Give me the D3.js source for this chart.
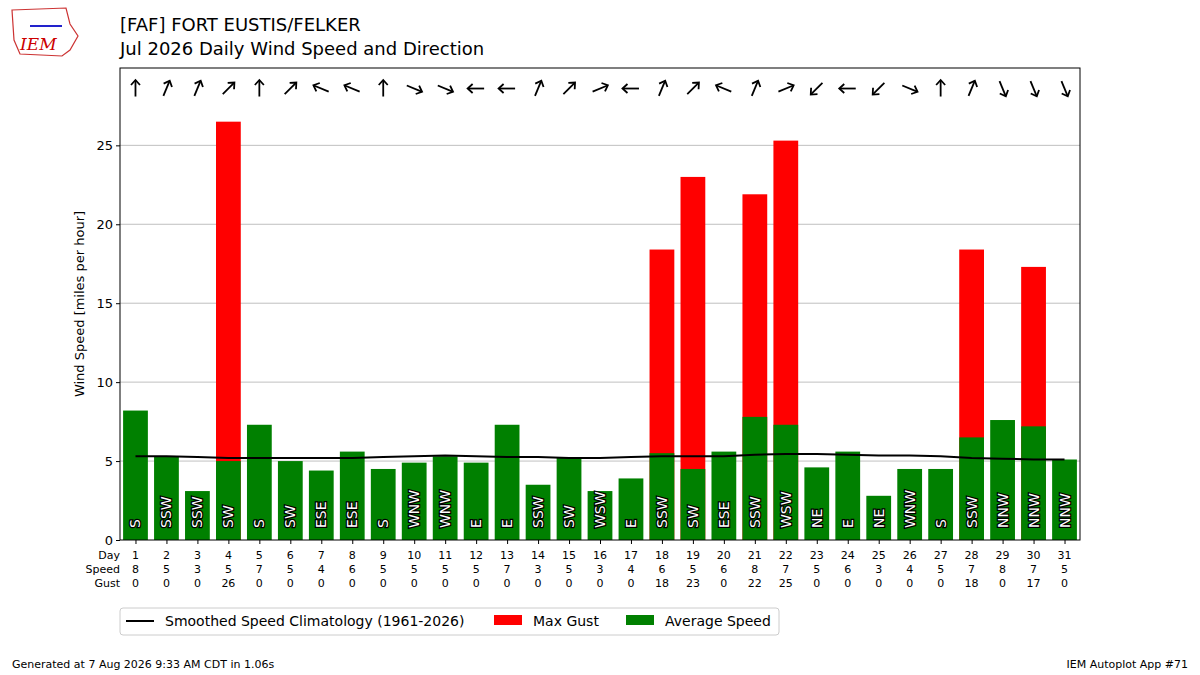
<!DOCTYPE html>
<html><head><meta charset="utf-8">
<script src="https://cdn.jsdelivr.net/npm/d3@7"></script>
<style>body{margin:0;background:#fff;font-family:"DejaVu Sans",sans-serif}</style>
</head><body><div id="chart"></div>
<script>
const width = 1200, height = 675;

const days = d3.range(1, 32);
const avgSpeed = [8.2,5.3,3.1,5.0,7.3,5.0,4.4,5.6,4.5,4.9,5.3,4.9,7.3,3.5,5.2,3.1,3.9,5.5,4.5,5.6,7.8,7.3,4.6,5.6,2.8,4.5,4.5,6.5,7.6,7.2,5.1];
const maxGust = [0,0,0,26.5,0,0,0,0,0,0,0,0,0,0,0,0,0,18.4,23.0,0,21.9,25.3,0,0,0,0,0,18.4,0,17.3,0];
const speedLabels = [8,5,3,5,7,5,4,6,5,5,5,5,7,3,5,3,4,6,5,6,8,7,5,6,3,4,5,7,8,7,5];
const gustLabels = [0,0,0,26,0,0,0,0,0,0,0,0,0,0,0,0,0,18,23,0,22,25,0,0,0,0,0,18,0,17,0];
const dirLabels = ["S","SSW","SSW","SW","S","SW","ESE","ESE","S","WNW","WNW","E","E","SSW","SW","WSW","E","SSW","SW","ESE","SSW","WSW","NE","E","NE","WNW","S","SSW","NNW","NNW","NNW"];
const climo = [5.3,5.3,5.25,5.2,5.2,5.2,5.2,5.2,5.25,5.3,5.35,5.3,5.25,5.25,5.2,5.2,5.25,5.3,5.3,5.3,5.4,5.45,5.45,5.4,5.35,5.35,5.3,5.2,5.15,5.1,5.1];
const yTicks = [0,5,10,15,20,25];

const compass = ["N","NNE","NE","ENE","E","ESE","SE","SSE","S","SSW","SW","WSW","W","WNW","NW","NNW"];

const svg = d3.select("#chart").append("svg").attr("width", width).attr("height", height)
  .style("font-family", "DejaVu Sans");

const pLeft = 120, pRight = 1080, pTop = 68, pBottom = 540;
const x = d3.scaleLinear().domain([0.5, 31.5]).range([pLeft, pRight]);
const y = d3.scaleLinear().domain([0, 29.9]).range([pBottom, pTop]);
const bw = (x(1) - x(0)) * 0.8;

// grid
svg.append("g").selectAll("line").data(yTicks.slice(1)).enter().append("line")
  .attr("x1", pLeft).attr("x2", pRight).attr("y1", d => y(d)).attr("y2", d => y(d))
  .attr("stroke", "#b0b0b0").attr("stroke-width", 0.8);

// gust bars
svg.append("g").selectAll("rect").data(days.filter((d, i) => maxGust[i] > 0)).enter().append("rect")
  .attr("x", d => x(d) - bw / 2).attr("width", bw)
  .attr("y", d => y(maxGust[d - 1])).attr("height", d => y(0) - y(maxGust[d - 1]))
  .attr("fill", "#ff0000");

// avg bars
svg.append("g").selectAll("rect").data(days).enter().append("rect")
  .attr("x", d => x(d) - bw / 2).attr("width", bw)
  .attr("y", d => y(avgSpeed[d - 1])).attr("height", d => y(0) - y(avgSpeed[d - 1]))
  .attr("fill", "#008000");

// direction labels
svg.append("g").selectAll("text").data(days).enter().append("text")
  .attr("transform", d => `translate(${x(d) + 5},${pBottom - 12}) rotate(-90)`)
  .attr("font-size", 14).attr("fill", "#fff").attr("stroke", "#000").attr("stroke-width", 2.5)
  .attr("paint-order", "stroke")
  .text(d => dirLabels[d - 1]);

// climatology
svg.append("path").datum(days)
  .attr("d", d3.line().x(d => x(d)).y(d => y(climo[d - 1])))
  .attr("fill", "none").attr("stroke", "#000").attr("stroke-width", 2);

// arrows
const arrows = svg.append("g").selectAll("g").data(days).enter().append("g")
  .attr("transform", d => {
    const a = compass.indexOf(dirLabels[d - 1]) * 22.5 + 180;
    return `translate(${x(d)},${y(28.6)}) rotate(${a})`;
  });
arrows.append("line").attr("x1", 0).attr("y1", 8).attr("x2", 0).attr("y2", -8)
  .attr("stroke", "#000").attr("stroke-width", 1.8);
arrows.append("path").attr("d", "M-4.5,-3.5 L0,-8.5 L4.5,-3.5").attr("fill", "none")
  .attr("stroke", "#000").attr("stroke-width", 1.8);

// frame
svg.append("rect").attr("x", pLeft).attr("y", pTop).attr("width", pRight - pLeft).attr("height", pBottom - pTop)
  .attr("fill", "none").attr("stroke", "#000").attr("stroke-width", 1);

// y axis
const ya = svg.append("g").attr("transform", `translate(${pLeft},0)`)
  .call(d3.axisLeft(y).tickValues(yTicks).tickSize(4));
ya.select(".domain").remove();
ya.selectAll("text").attr("font-size", 13).attr("font-family", "DejaVu Sans").attr("fill", "#000");
svg.append("text").attr("transform", `translate(84,${(pTop + pBottom) / 2}) rotate(-90)`)
  .attr("text-anchor", "middle").attr("font-size", 13).text("Wind Speed [miles per hour]");

// x axis rows
const xa = svg.append("g").attr("transform", `translate(0,${pBottom})`)
  .call(d3.axisBottom(x).tickValues(days).tickSize(4).tickFormat(""));
xa.select(".domain").remove();
const rows = [["Day", days], ["Speed", speedLabels], ["Gust", gustLabels]];
rows.forEach(([name, vals], r) => {
  const yy = 559 + r * 14;
  svg.append("text").attr("x", pLeft).attr("y", yy).attr("text-anchor", "end").attr("font-size", 11).text(name);
  svg.append("g").selectAll("text").data(days).enter().append("text")
    .attr("x", d => x(d)).attr("y", yy).attr("text-anchor", "middle").attr("font-size", 11)
    .text(d => vals[d - 1]);
});

// legend
const lg = svg.append("g");
lg.append("rect").attr("x", 120).attr("y", 608).attr("width", 659).attr("height", 27).attr("rx", 3)
  .attr("fill", "#fff").attr("stroke", "#ccc");
lg.append("line").attr("x1", 126).attr("x2", 154).attr("y1", 621).attr("y2", 621).attr("stroke", "#000").attr("stroke-width", 2);
lg.append("text").attr("x", 165).attr("y", 626).attr("font-size", 14).text("Smoothed Speed Climatology (1961-2026)");
lg.append("rect").attr("x", 494).attr("y", 615).attr("width", 28).attr("height", 10).attr("fill", "#ff0000");
lg.append("text").attr("x", 533).attr("y", 626).attr("font-size", 14).text("Max Gust");
lg.append("rect").attr("x", 626).attr("y", 615).attr("width", 28).attr("height", 10).attr("fill", "#008000");
lg.append("text").attr("x", 665).attr("y", 626).attr("font-size", 14).text("Average Speed");

// titles
svg.append("text").attr("x", 120).attr("y", 31).attr("font-size", 18).text("[FAF] FORT EUSTIS/FELKER");
svg.append("text").attr("x", 120).attr("y", 55).attr("font-size", 18).text("Jul 2026 Daily Wind Speed and Direction");
svg.append("text").attr("x", 12).attr("y", 668).attr("font-size", 11).text("Generated at 7 Aug 2026 9:33 AM CDT in 1.06s");
svg.append("text").attr("x", 1188).attr("y", 668).attr("text-anchor", "end").attr("font-size", 11).text("IEM Autoplot App #71");

// logo
svg.append("path").attr("d", "M12,10 L66,8 L70,24 L78,36 L70,50 L62,56 L20,54 L14,40 Z")
  .attr("fill", "#fff").attr("stroke", "#c33").attr("stroke-width", 1.2);
svg.append("text").attr("x", 20).attr("y", 50).attr("font-size", 17).attr("font-style", "italic")
  .attr("font-family", "DejaVu Serif").attr("fill", "#c00").text("IEM");
svg.append("line").attr("x1", 30).attr("x2", 62).attr("y1", 26).attr("y2", 26).attr("stroke", "#22c").attr("stroke-width", 2);
</script></body></html>
